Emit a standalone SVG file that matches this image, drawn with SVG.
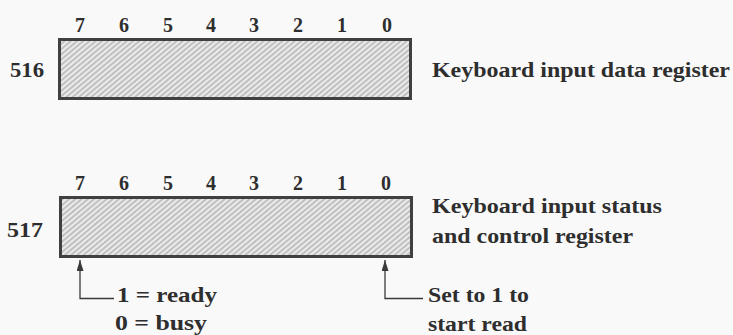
<svg xmlns="http://www.w3.org/2000/svg" width="733" height="335" viewBox="0 0 733 335">
<style>
text{font-family:"Liberation Serif","Times New Roman",serif;font-weight:bold;fill:#2e2e2e}
.d{font-size:20px;text-anchor:middle}
.l{font-size:22px}
.reg{fill:url(#hatch);stroke:#404040;stroke-width:3}
.c{fill:none;stroke:#3a3a3a;stroke-width:1.3}
</style>
<defs>
<pattern id="hatch" width="4" height="4" patternUnits="userSpaceOnUse" patternTransform="rotate(-40)">
<rect width="4" height="4" fill="#ebebeb"/>
<line x1="0" y1="1" x2="4" y2="1" stroke="#a3a3a3" stroke-width="1.2"/>
</pattern>
<marker id="ah" viewBox="0 0 11 7" refX="11" refY="3.5" markerWidth="11" markerHeight="7" markerUnits="userSpaceOnUse" orient="auto-start-reverse">
<path d="M0 0 L11 3.5 L0 7 Z" fill="#3a3a3a"/>
</marker>
</defs>
<rect width="733" height="335" fill="#f9f9f9"/>
<g id="reg516">
<text class="d" x="80" y="32">7</text><text class="d" x="124" y="32">6</text><text class="d" x="168" y="32">5</text><text class="d" x="211" y="32">4</text><text class="d" x="254" y="32">3</text><text class="d" x="298" y="32">2</text><text class="d" x="342" y="32">1</text><text class="d" x="387" y="32">0</text>
<rect class="reg" x="59.5" y="39.5" width="351" height="59"/>
<text class="l" x="10" y="77" textLength="34" lengthAdjust="spacingAndGlyphs">516</text>
<text class="l" x="432" y="77" textLength="298" lengthAdjust="spacingAndGlyphs">Keyboard input data register</text>
</g>
<g id="reg517">
<text class="d" x="80" y="190">7</text><text class="d" x="124" y="190">6</text><text class="d" x="168" y="190">5</text><text class="d" x="211" y="190">4</text><text class="d" x="254" y="190">3</text><text class="d" x="298" y="190">2</text><text class="d" x="342" y="190">1</text><text class="d" x="386" y="190">0</text>
<rect class="reg" x="60.5" y="197.5" width="351" height="59"/>
<text class="l" x="7" y="237" textLength="36" lengthAdjust="spacingAndGlyphs">517</text>
<text class="l" x="432" y="213" textLength="230" lengthAdjust="spacingAndGlyphs">Keyboard input status</text>
<text class="l" x="432" y="243" textLength="201" lengthAdjust="spacingAndGlyphs">and control register</text>
</g>
<g id="note-bit7">
<text class="l" x="117" y="302" textLength="100" lengthAdjust="spacingAndGlyphs">1 = ready</text>
<text class="l" x="115" y="330" textLength="92" lengthAdjust="spacingAndGlyphs">0 = busy</text>
</g>
<g id="note-bit0">
<text class="l" x="428" y="302" textLength="101" lengthAdjust="spacingAndGlyphs">Set to 1 to</text>
<text class="l" x="428" y="331" textLength="99" lengthAdjust="spacingAndGlyphs">start read</text>
</g>
<g id="connectors">
<path class="c" d="M80 260 V298.5 H114" marker-start="url(#ah)"/>
<path class="c" d="M385 260 V298.5 H423" marker-start="url(#ah)"/>
</g>
</svg>
